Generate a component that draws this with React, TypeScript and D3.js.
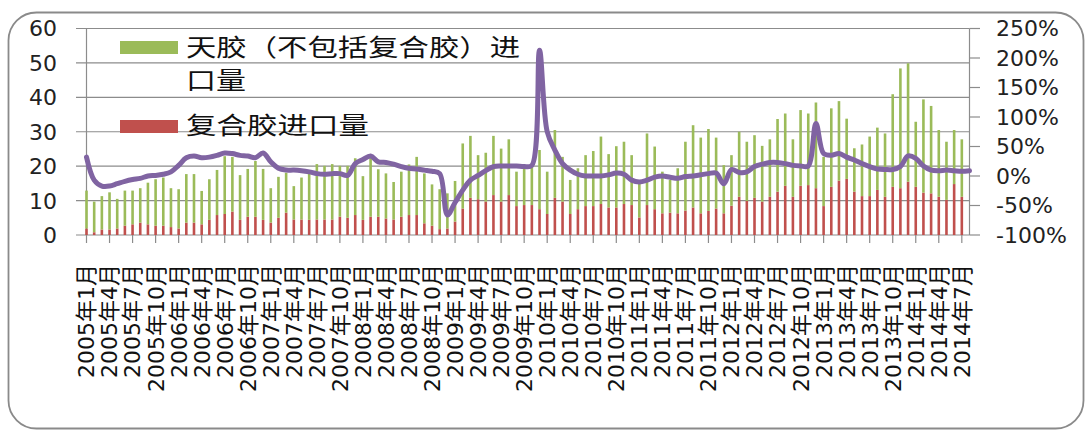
import React from 'react';
import * as d3 from 'd3';

// months 2005年1月 .. 2014年8月
const years = [2005, 2006, 2007, 2008, 2009, 2010, 2011, 2012, 2013, 2014];
const monthsPerYear = [12, 12, 12, 12, 12, 12, 12, 12, 12, 8];
const categories: string[] = years.flatMap((y, yi) =>
  d3.range(1, monthsPerYear[yi] + 1).map((m) => `${y}年${m}月`)
);

// 复合胶进口量 (万吨)
const compoundImports = [
  1.9, 0.8, 1.6, 1.6, 1.9, 2.7, 3.1, 3.6, 3.1, 2.7, 2.7, 2.3,
  1.9, 3.6, 3.6, 3.1, 4.4, 5.8, 6.1, 6.8, 4.4, 5.3, 5.3, 4.4,
  3.6, 5.0, 6.5, 4.5, 4.5, 4.4, 4.5, 4.5, 4.5, 5.3, 5.0, 5.8,
  4.4, 5.3, 5.3, 4.8, 4.5, 5.3, 5.8, 5.8, 3.4, 2.7, 1.7, 1.9,
  3.9, 7.7, 10.8, 10.4, 9.7, 11.6, 9.7, 11.6, 8.4, 8.7, 8.7, 7.5,
  6.1, 10.8, 9.7, 6.1, 7.5, 8.4, 8.4, 9.0, 8.0, 8.0, 9.0, 8.7,
  5.1, 8.7, 7.5, 6.3, 6.5, 6.3, 7.1, 8.0, 6.3, 7.0, 7.7, 6.3,
  8.5, 11.1, 9.9, 10.8, 9.7, 11.1, 12.6, 14.3, 11.1, 14.3, 14.5, 13.6,
  8.4, 14.0, 15.8, 16.3, 12.6, 11.3, 11.3, 13.1, 11.1, 14.0, 13.6, 15.5,
  14.0, 12.3, 12.1, 11.1, 10.2, 14.8, 11.1,
];

// 天胶（不包括复合胶）进口量 (万吨)
const naturalImports = [
  11.0, 8.9, 9.7, 10.8, 8.6, 10.2, 9.8, 10.0, 12.1, 13.5, 14.0, 11.3,
  11.4, 14.1, 14.1, 9.7, 11.8, 13.1, 16.8, 15.9, 13.0, 13.9, 16.2, 14.8,
  10.0, 11.9, 11.6, 9.7, 12.2, 13.5, 16.1, 15.6, 16.1, 14.8, 15.1, 16.5,
  12.7, 18.2, 13.8, 13.1, 10.9, 13.1, 14.7, 16.9, 14.5, 12.0, 11.6, 10.2,
  11.8, 18.9, 18.0, 12.8, 14.2, 17.2, 15.4, 16.2, 10.0, 11.3, 11.3, 17.2,
  12.3, 19.7, 13.0, 9.9, 11.9, 14.8, 16.0, 19.6, 15.5, 17.8, 18.1, 14.5,
  10.4, 20.8, 18.2, 12.1, 9.5, 13.1, 20.0, 23.9, 22.0, 23.8, 20.6, 14.0,
  14.7, 18.9, 17.2, 18.2, 16.2, 16.7, 21.1, 21.0, 16.7, 22.0, 20.8, 24.9,
  14.3, 22.8, 23.1, 17.5, 12.6, 15.0, 17.3, 18.1, 18.4, 26.9, 34.8, 34.4,
  18.9, 27.1, 25.4, 19.4, 16.9, 15.7, 16.7,
];

// 同比 (%), right axis
const yoyGrowth = [
  32, -7, -17, -17, -13, -9, -6, -4, 0, 1, 3, 7,
  18, 31, 34, 31, 32, 35, 39, 38, 35, 34, 31, 39,
  24, 13, 10, 10, 9, 7, 4, 3, 4, 4, 1, 21,
  28, 34, 24, 23, 20, 16, 13, 12, 10, 8, 4, -66,
  -45, -24, -7, 1, 9, 16, 17, 17, 17, 16, 18, 213,
  75, 44, 21, 10, 3, 0, 0, 0, 2, 5, 3, -7,
  -10, -7, -2, 0, -2, -4, -1, 0, 2, 4, 5, -13,
  11, 6, 7, 16, 20, 23, 23, 21, 18, 17, 17, 89,
  38, 35, 38, 32, 27, 21, 16, 12, 11, 11, 16, 34,
  30, 17, 10, 9, 10, 9, 8, 9,
];

const leftTicks = [0, 10, 20, 30, 40, 50, 60];
const rightTicks = [-100, -50, 0, 50, 100, 150, 200, 250];

const W = 1085;
const H = 430;
const plot = { left: 86.5, right: 969.5, top: 28.5, bottom: 235 };
const GREEN = '#9bbb59';
const RED = '#c0504d';
const PURPLE = '#8064a2';
const GRID = '#8c8c8c';
const NUM_FONT = "'DejaVu Sans', 'Noto Sans CJK SC', sans-serif";
const CJK_FONT = "'Noto Sans CJK SC', sans-serif";

export default function App() {
  const x = d3.scalePoint<string>().domain(categories).range([plot.left, plot.right]);
  const yL = d3.scaleLinear().domain([0, 60]).range([plot.bottom, plot.top]);
  const yR = d3.scaleLinear().domain([-100, 250]).range([plot.bottom, plot.top]);
  const barW = 2.6;

  const line = d3
    .line<number>()
    .x((_, i) => x(categories[i]) as number)
    .y((d) => yR(d))
    .curve(d3.curveCatmullRom.alpha(0.5));

  const labelIdx = categories.map((_, i) => i).filter((i) => i % 3 === 0 && i < 115);

  return (
    <svg
      width={W}
      height={H}
      style={{ position: 'absolute', left: 0, top: 0, background: '#fff' }}
    >
      <rect
        x={8.5}
        y={12.5}
        width={1075}
        height={416}
        rx={28}
        fill="#fff"
        stroke="#8a8a8a"
        strokeWidth={1.8}
      />

      {/* gridlines + left ticks */}
      {leftTicks.map((t) => (
        <line key={'g' + t} x1={76} x2={plot.right} y1={yL(t)} y2={yL(t)} stroke={GRID} strokeWidth={1.2} />
      ))}
      <line x1={plot.left} x2={plot.left} y1={plot.top} y2={plot.bottom} stroke={GRID} strokeWidth={1.2} />
      <line x1={plot.right} x2={plot.right} y1={plot.top} y2={plot.bottom} stroke={GRID} strokeWidth={1.2} />
      {rightTicks.map((t) => (
        <line key={'r' + t} x1={plot.right} x2={980} y1={yR(t)} y2={yR(t)} stroke={GRID} strokeWidth={1.2} />
      ))}
      {labelIdx.map((i) => (
        <line
          key={'xt' + i}
          x1={x(categories[i])}
          x2={x(categories[i])}
          y1={plot.bottom}
          y2={plot.bottom + 8}
          stroke={GRID}
          strokeWidth={1.2}
        />
      ))}

      {/* stacked bars */}
      {compoundImports.map((v, i) => {
        const cx = x(categories[i]) as number;
        const g = naturalImports[i];
        return (
          <g key={'b' + i}>
            <rect x={cx - barW / 2} width={barW} y={yL(v)} height={yL(0) - yL(v)} fill={RED} />
            <rect x={cx - barW / 2} width={barW} y={yL(v + g)} height={yL(v) - yL(v + g)} fill={GREEN} />
          </g>
        );
      })}

      {/* growth line */}
      <path
        d={line(yoyGrowth) || ''}
        fill="none"
        stroke={PURPLE}
        strokeWidth={5}
        strokeLinejoin="round"
        strokeLinecap="round"
      />

      {/* left axis labels */}
      {leftTicks.map((t) => (
        <text
          key={'lt' + t}
          x={57}
          y={yL(t)}
          dy="0.36em"
          textAnchor="end"
          fontFamily={NUM_FONT}
          fontSize={22}
          fill="#222"
        >
          {t}
        </text>
      ))}

      {/* right axis labels */}
      {rightTicks.map((t) => (
        <text
          key={'rt' + t}
          x={996}
          y={yR(t)}
          dy="0.36em"
          textAnchor="start"
          fontFamily={NUM_FONT}
          fontSize={22}
          fill="#222"
        >
          {t}%
        </text>
      ))}

      {/* category labels */}
      {labelIdx.map((i) => (
        <text
          key={'xl' + i}
          transform={`translate(${x(categories[i])},264) rotate(-90)`}
          dy="0.36em"
          textAnchor="end"
          fontFamily={NUM_FONT}
          fontSize={22}
          fill="#111"
        >
          {categories[i]}
        </text>
      ))}

      {/* legend */}
      <rect x={120} y={41} width={58} height={13} fill={GREEN} />
      <text x={186} y={56} fontFamily={CJK_FONT} fontSize={24} textLength={334} lengthAdjust="spacingAndGlyphs" fill="#111">
        天胶（不包括复合胶）进
      </text>
      <text x={186} y={89} fontFamily={CJK_FONT} fontSize={24} textLength={60} lengthAdjust="spacingAndGlyphs" fill="#111">
        口量
      </text>
      <rect x={120} y={120} width={58} height={13} fill={RED} />
      <text x={186} y={134} fontFamily={CJK_FONT} fontSize={24} textLength={183} lengthAdjust="spacingAndGlyphs" fill="#111">
        复合胶进口量
      </text>
    </svg>
  );
}
